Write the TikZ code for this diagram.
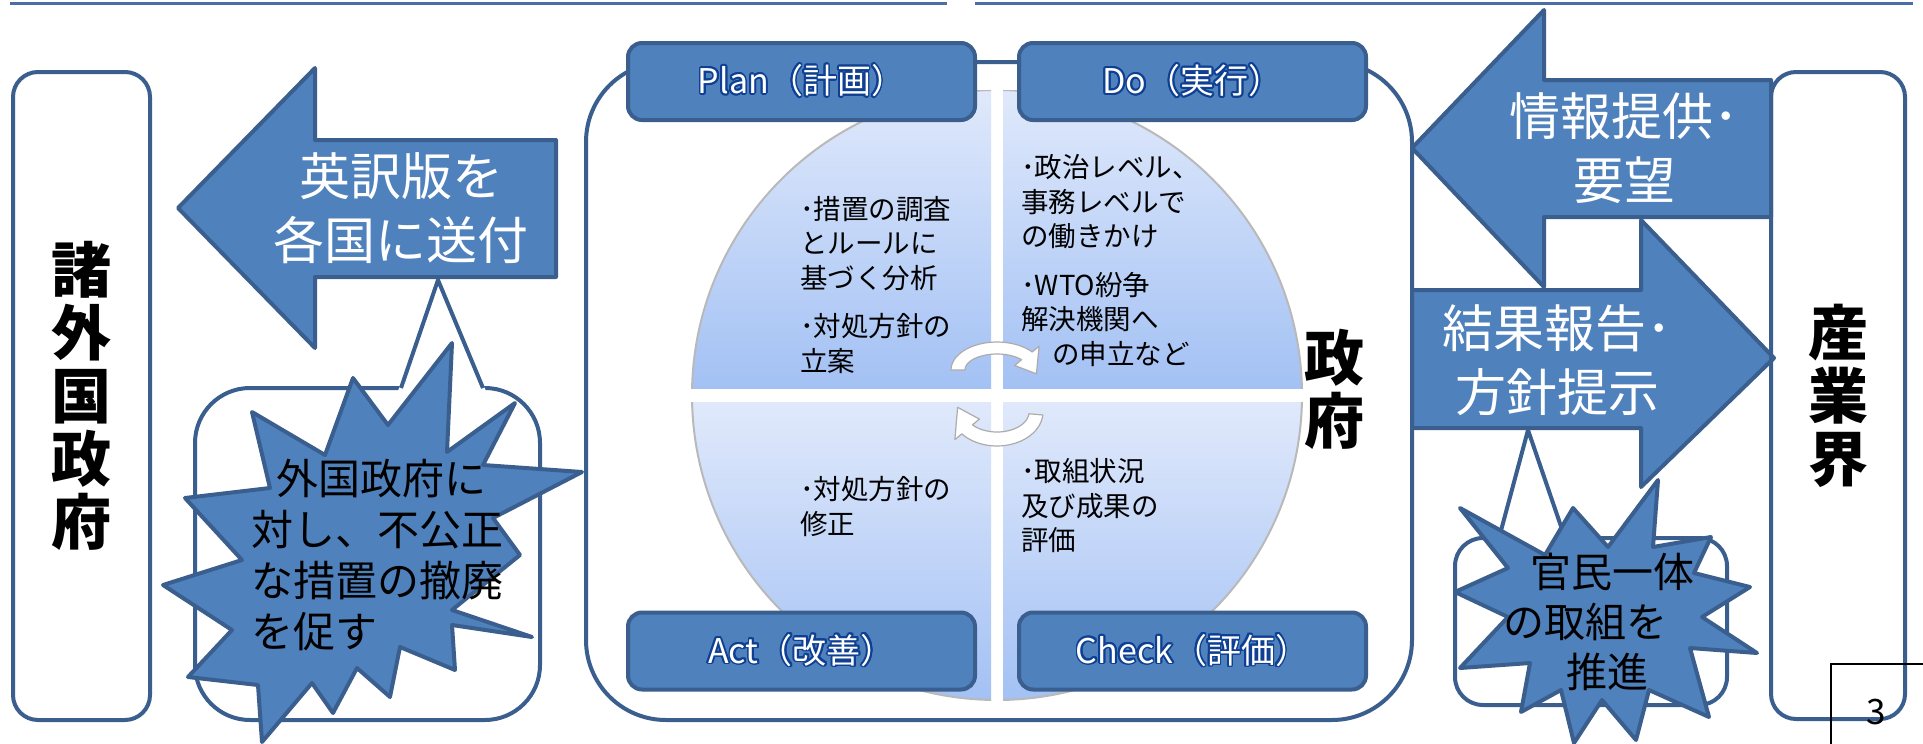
\documentclass[tikz,border=0pt]{standalone}
\usepackage{fontspec}
\newfontfamily\jp{Noto Sans CJK JP}
\usepackage{contour}
\contourlength{1.8pt}
\usetikzlibrary{calc}
\definecolor{bfill}{HTML}{4F81BD}
\definecolor{bline}{HTML}{3A5F8E}
\definecolor{navyt}{HTML}{0E3F92}
\definecolor{qtop}{HTML}{E0E9FB}
\definecolor{qbot}{HTML}{A3C1F4}
\definecolor{topln}{HTML}{4A6FA5}
\tikzset{
  shapeline/.style={draw=bline, line width=4pt},
  bluesh/.style={shapeline, fill=bfill, line join=round},
  roundbox/.style={shapeline, fill=white, inner sep=0pt},
  pdcabox/.style={shapeline, fill=bfill, rounded corners=14pt, inner sep=0pt,
    minimum width=347pt, minimum height=77pt, text=white, font=\jp\fontsize{34}{38}\selectfont},
  bigv/.style={font=\jp\bfseries\fontsize{60}{63}\selectfont, align=center},
  arrowtxt/.style={text=white, font=\jp\fontsize{51}{64}\selectfont, align=center, inner sep=0pt},
  qtxt/.style={font=\jp\fontsize{27.5}{34.5}\selectfont, align=left, inner sep=0pt, anchor=west},
  startxt/.style={font=\jp\fontsize{42}{51}\selectfont, align=left, inner sep=0pt, anchor=west},
  qedge/.style={draw=gray!55, line width=2pt},
  carrow/.style={fill=white, draw=gray!65, line width=1.2pt, line join=round},
  topline/.style={draw=topln, line width=3pt}
}
\begin{document}
\begin{tikzpicture}[x=1pt,y=-1pt]
\useasboundingbox (0,0) rectangle (1923,744);
% top rules
\draw[topline] (10,3) -- (947,3);
\draw[topline] (975,3) -- (1913,3);

% left box
\node[roundbox, rounded corners=25pt, minimum width=137pt, minimum height=648pt, bigv] (gaikoku) at (81.5,396) {諸\\外\\国\\政\\府};

% container
\node[roundbox, rounded corners=80pt, minimum width=826pt, minimum height=658pt] (seifu) at (999,391) {};

% quadrants
\def\cx{997}\def\cy{395}
\foreach \xa/\ya/\xb/\yb in {680/90/991/388, 1003/90/1310/388, 680/402/991/700, 1003/402/1310/700}{
  \begin{scope}
    \clip (\cx,\cy) circle[radius=305];
    \fill[top color=qtop, bottom color=qbot] (\xa,\ya) rectangle (\xb,\yb);
  \end{scope}
  \begin{scope}
    \clip (\xa,\ya) rectangle (\xb,\yb);
    \draw[qedge] (\cx,\cy) circle[radius=305];
  \end{scope}
}

% circular arrows
\filldraw[carrow] plot[domain=180:40,samples=30] ({997+46*cos(\x)},{370-28*sin(\x)})
  -- ({997+55*cos(40)},{370-37*sin(40)}) -- ({997+40*cos(-10)},{370-22*sin(-10)})
  -- ({997+23*cos(40)},{370-7*sin(40)})
  -- plot[domain=40:180,samples=30] ({997+32*cos(\x)},{370-16*sin(\x)}) -- cycle;
\filldraw[carrow] plot[domain=-5:-140,samples=30] ({997+46*cos(\x)},{412-34*sin(\x)})
  -- ({997+55*cos(-140)},{412-43*sin(-140)}) -- ({997+40*cos(-190)},{412-27*sin(-190)})
  -- ({997+23*cos(-140)},{412-11*sin(-140)})
  -- plot[domain=-140:-5,samples=30] ({997+32*cos(\x)},{412-20*sin(\x)}) -- cycle;

% PDCA boxes
\node[pdcabox] (plan) at (801.5,81.5) {\contour{navyt}{Plan（計画）}};
\node[pdcabox] (do) at (1192.5,81.5) {\contour{navyt}{Do（実行）}};
\node[pdcabox] (act) at (801.5,651) {\contour{navyt}{Act（改善）}};
\node[pdcabox] (check) at (1192.5,651) {\contour{navyt}{Check（評価）}};

% quadrant texts
\node[qtxt] (ptxt) at (800,285) {･措置の調査\\とルールに\\基づく分析\\[14pt]･対処方針の\\立案};
\node[qtxt] (dtxt) at (1021,260.5) {･政治レベル、\\事務レベルで\\の働きかけ\\[14pt]･WTO紛争\\解決機関へ\\\hspace*{31pt}の申立など};
\node[qtxt] (atxt) at (800,506.5) {･対処方針の\\修正};
\node[qtxt] (ctxt) at (1021,506) {･取組状況\\及び成果の\\評価};

\node[bigv, inner sep=0pt] (seifutxt) at (1334,389) {政\\府};

% arrows
\draw[bluesh] (178,208) -- (315,68) -- (315,140) -- (556,140) -- (556,277) -- (315,277) -- (315,348) -- cycle;
\node[arrowtxt] (eiyaku) at (401,208) {英訳版を\\各国に送付};

\draw[bluesh] (1412,148) -- (1544,10) -- (1544,80) -- (1771,80) -- (1771,217) -- (1544,217) -- (1544,287) -- cycle;
\node[arrowtxt] (joho) at (1624,148) {情報提供･\\要望};

\draw[bluesh] (1412,290) -- (1641,290) -- (1641,220) -- (1774,358) -- (1641,487) -- (1641,428) -- (1412,428) -- cycle;
\node[arrowtxt] (kekka) at (1557,360) {結果報告･\\方針提示};

% right box (drawn after arrows)
\node[shapeline, inner sep=0pt, rounded corners=25pt, minimum width=134pt, minimum height=647pt, bigv] (sangyo) at (1838,395.5) {産\\業\\界};

% left callout
\node[roundbox, rounded corners=55pt, minimum width=345pt, minimum height=332pt] (lcall) at (367.5,554) {};
\fill[white] (398,391) -- (438,281) -- (486,391) -- cycle;
\draw[shapeline, line join=round] (401,388) -- (438,280) -- (483,388);

% right callout
\node[roundbox, rounded corners=28pt, minimum width=272pt, minimum height=167pt] (rcall) at (1591,621.5) {};
\fill[white] (1496,541) -- (1528,431) -- (1568,541) -- cycle;
\draw[shapeline, line join=round] (1499,538) -- (1528,430) -- (1565,538);

% left star
\draw[bluesh] (353,378) -- (388,425) -- (452,343) -- (447,452) -- (515,403) -- (483,465)
  -- (582,472) -- (493,518) -- (520,555) -- (452,610) -- (532,637) -- (452,625)
  -- (455,670) -- (400,647) -- (390,697) -- (357,668) -- (333,713) -- (312,683)
  -- (262,742) -- (258,685) -- (188,677) -- (232,630) -- (163,585) -- (242,560)
  -- (185,498) -- (270,488) -- (252,412) -- (325,455) -- cycle;
\node[startxt] (ltxt) at (251,555.5) {\hspace*{25pt}外国政府に\\対し、不公正\\な措置の撤廃\\を促す};

% right star
\draw[bluesh] (1460,508) -- (1508,568) -- (1455,592) -- (1508,617) -- (1460,668)
  -- (1530,663) -- (1521,712) -- (1561,690) -- (1574,743) -- (1602,700)
  -- (1636,740) -- (1649,690) -- (1709,717) -- (1690,648) -- (1757,653)
  -- (1702,617) -- (1750,587) -- (1694,573) -- (1711,537) -- (1653,547)
  -- (1658,480) -- (1608,547) -- (1573,508) -- (1545,555) -- cycle;
\node[startxt, font=\jp\fontsize{41}{50}\selectfont] (rtxt) at (1503,622) {\hspace*{27pt}官民一体\\の取組を\\\hspace*{63pt}推進};

% page number
\node[draw=black, line width=1.5pt, minimum width=100pt, minimum height=90pt, anchor=north west, inner sep=0pt] (pgbox) at (1830,663) {};
\node[font=\jp\fontsize{35}{40}\selectfont, inner sep=0pt] (pgnum) at (1876,712) {3};
\end{tikzpicture}
\end{document}
